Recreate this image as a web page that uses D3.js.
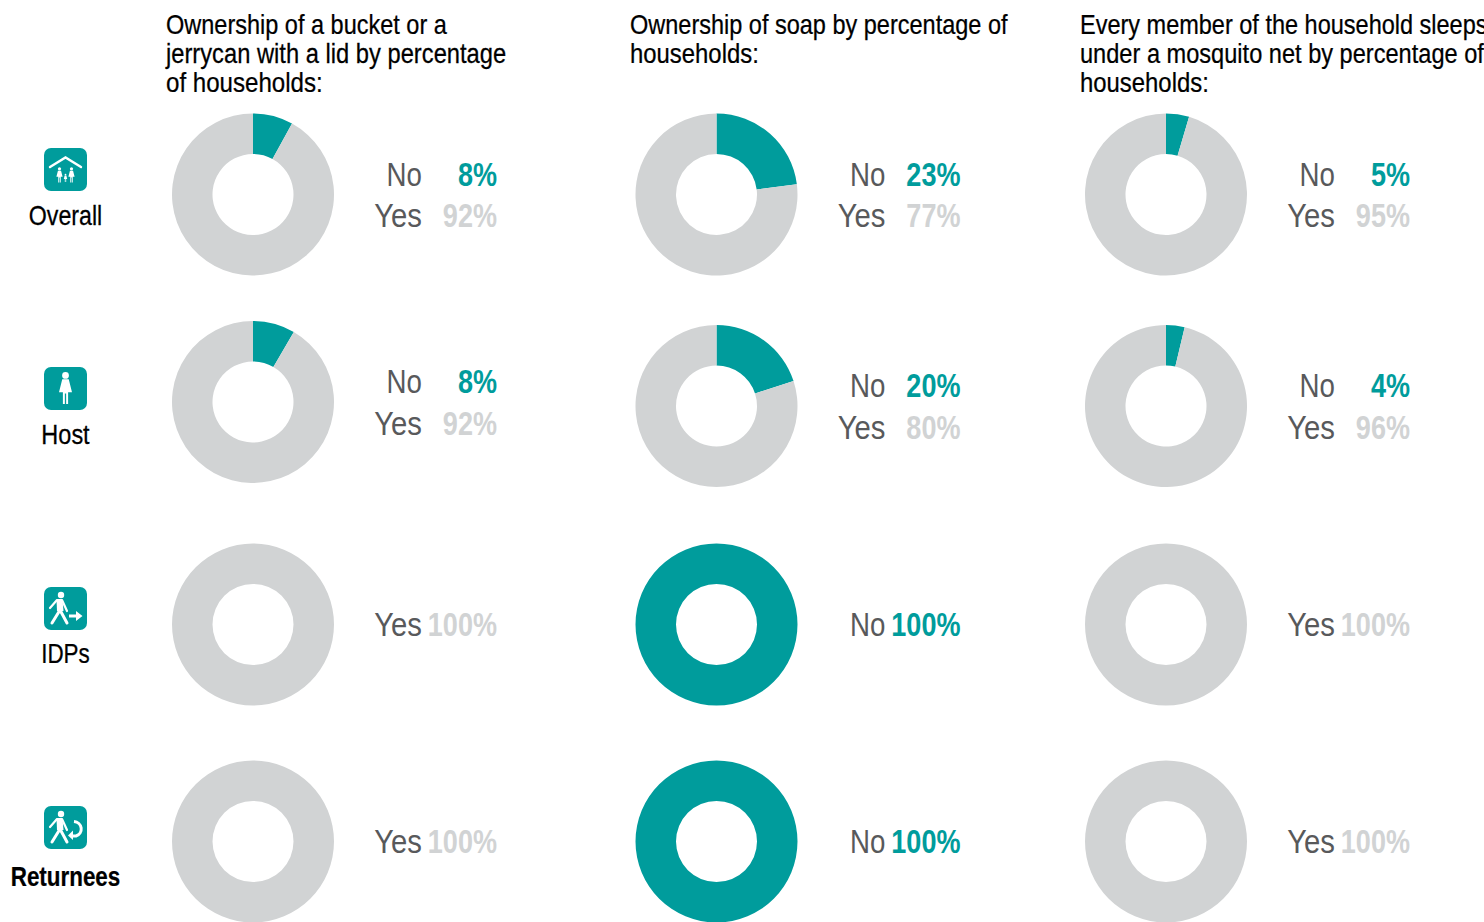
<!DOCTYPE html>
<html>
<head>
<meta charset="utf-8">
<script src="https://cdn.jsdelivr.net/npm/d3@7"></script>
<style>
html, body { margin: 0; padding: 0; background: #fff; overflow: hidden; }
text { font-family: "Liberation Sans", sans-serif; }
</style>
</head>
<body>
<script>
var groups = ["Overall", "Host", "IDPs", "Returnees"];
var questions = [
    ["Ownership of a bucket or a", "jerrycan with a lid by percentage", "of households:"],
    ["Ownership of soap by percentage of", "households:"],
    ["Every member of the household sleeps", "under a mosquito net by percentage of", "households:"]
];
var answers = ["No", "Yes"];
// share of "No" per group, one list per question (read off the wedges, labels are rounded)
var bucketNo = [8, 8.4, 0, 0];
var soapNo = [23, 20, 100, 100];
var netNo = [4.6, 3.7, 0, 0];
var noValues = [bucketNo, soapNo, netNo];

var w = 1484;
var h = 922;
var teal = "#009c9c";
var grey = "#d1d3d4";
var labelGrey = "#58595b";
var outerR = 81;
var innerR = 40.5;

var colX = [253, 716.5, 1166];
var rowY = [194.5, 402, 624.5, 841.5];
var hostShift = [0, 4, 4];      // the Host row sits a bit lower in columns 2 and 3
var titleX = [166, 630, 1080];
var titleSqueeze = [[0.871, 0.879, 0.893], [0.871, 0.885], [0.871, 0.874, 0.885]];
var answerSqueeze = { No: 0.84, Yes: 0.887 };
var groupSqueeze = [0.86, 0.87, 0.83, 0.83];

var svg = d3.select("body")
    .append("svg")
    .attr("width", w)
    .attr("height", h)
    .style("display", "block");

var pie = d3.pie().sort(null);
var arc = d3.arc().innerRadius(innerR).outerRadius(outerR);
var colors = d3.scaleOrdinal().domain(answers).range([teal, grey]);
var pct = d3.format(".0f");

// the original type is a narrow Arial, so squeeze the text sideways
function narrowText(g, x, y, sx, str) {
    return g.append("text")
        .attr("transform", "translate(" + x + "," + y + ") scale(" + sx + ",1)")
        .text(str);
}

// question headers
questions.forEach(function (lines, c) {
    lines.forEach(function (line, i) {
        narrowText(svg, titleX[c], 34 + i * 29, titleSqueeze[c][i], line)
            .attr("font-size", 27)
            .attr("fill", "#000")
            .attr("stroke", "#000")
            .attr("stroke-width", 0.25);
    });
});

// donuts and their labels
noValues.forEach(function (values, c) {
    values.forEach(function (no, r) {
        var cy = rowY[r] + (r == 1 ? hostShift[c] : 0);
        var g = svg.append("g").attr("transform", "translate(" + colX[c] + "," + cy + ")");
        var parts = [{ name: "No", value: no }, { name: "Yes", value: 100 - no }];

        g.selectAll("path")
            .data(pie.value(function (d) { return d.value; })(parts))
            .enter()
            .append("path")
            .attr("d", arc)
            .attr("fill", function (d) { return colors(d.data.name); });

        var shown = parts.filter(function (d) { return d.value > 0; });
        shown.forEach(function (d, i) {
            var y = shown.length == 1 ? 11 : (i == 0 ? -9 : 32.5);
            narrowText(g, 169, y, answerSqueeze[d.name], d.name)
                .attr("text-anchor", "end")
                .attr("font-size", 33)
                .attr("fill", labelGrey);
            narrowText(g, 244, y, 0.82, pct(d.value) + "%")
                .attr("text-anchor", "end")
                .attr("font-size", 33)
                .attr("font-weight", "bold")
                .attr("fill", d.name == "No" ? teal : grey);
        });
    });
});

// little white figures for the group icons, in a 43x43 box
function person(g, x, y, s) {
    var p = g.append("g").attr("transform", "translate(" + x + "," + y + ") scale(" + s + ")");
    p.append("circle").attr("cx", 0).attr("cy", -10).attr("r", 2.6).attr("fill", "#fff");
    p.append("path").attr("d", "M-2.5-7H2.5L5 3H2V12H.5V4H-.5V12H-2V3H-5Z").attr("fill", "#fff");
}

function walker(g) {
    g.append("circle").attr("cx", 17).attr("cy", 8).attr("r", 3.2).attr("fill", "#fff");
    g.append("path")
        .attr("d", "M6 21L13 13H18L23 24")
        .attr("fill", "none")
        .attr("stroke", "#fff")
        .attr("stroke-width", 2.2)
        .attr("stroke-linecap", "round")
        .attr("stroke-linejoin", "round");
    g.append("path").attr("d", "M12.5 12.5H18.5L19.5 24H13Z").attr("fill", "#fff");
    g.append("path")
        .attr("d", "M16 23L8 36M16 23L23 36")
        .attr("fill", "none")
        .attr("stroke", "#fff")
        .attr("stroke-width", 3)
        .attr("stroke-linecap", "round");
}

var iconDraw = [
    function (g) {
        g.append("path")
            .attr("d", "M6 19L21.5 9.5L37 19")
            .attr("fill", "none")
            .attr("stroke", "#fff")
            .attr("stroke-width", 2.4)
            .attr("stroke-linecap", "round");
        person(g, 15.5, 27, 0.62);
        person(g, 27.5, 27, 0.62);
        person(g, 21.5, 30, 0.34);
    },
    function (g) {
        person(g, 21.5, 21.4, 1.3);
    },
    function (g) {
        walker(g);
        g.append("path").attr("d", "M25 27.5H32V24L38.5 29L32 34V30.5H25Z").attr("fill", "#fff");
    },
    function (g) {
        walker(g);
        g.append("path")
            .attr("d", "M30 15.5A8 7.5 0 0 1 32 30H27")
            .attr("fill", "none")
            .attr("stroke", "#fff")
            .attr("stroke-width", 3);
        g.append("path").attr("d", "M29 24.5L24 29.5L29 34Z").attr("fill", "#fff");
    }
];

var iconY = [148, 367, 587, 806];
var labelY = [225, 444, 663, 886];

var rows = svg.selectAll(".group")
    .data(groups)
    .enter()
    .append("g")
    .attr("class", "group");

rows.each(function (d, i) {
    var row = d3.select(this);
    narrowText(row, 65.5, labelY[i], groupSqueeze[i], d)
        .attr("text-anchor", "middle")
        .attr("font-size", 27)
        .attr("font-weight", d == "Returnees" ? "bold" : "normal")
        .attr("fill", "#000")
        .attr("stroke", "#000")
        .attr("stroke-width", 0.25);

    var g = row.append("g")
        .attr("transform", "translate(44," + iconY[i] + ")");
    g.append("rect")
        .attr("width", 43)
        .attr("height", 43)
        .attr("rx", 7)
        .attr("fill", teal);
    iconDraw[i](g);
});
</script>
</body>
</html>
